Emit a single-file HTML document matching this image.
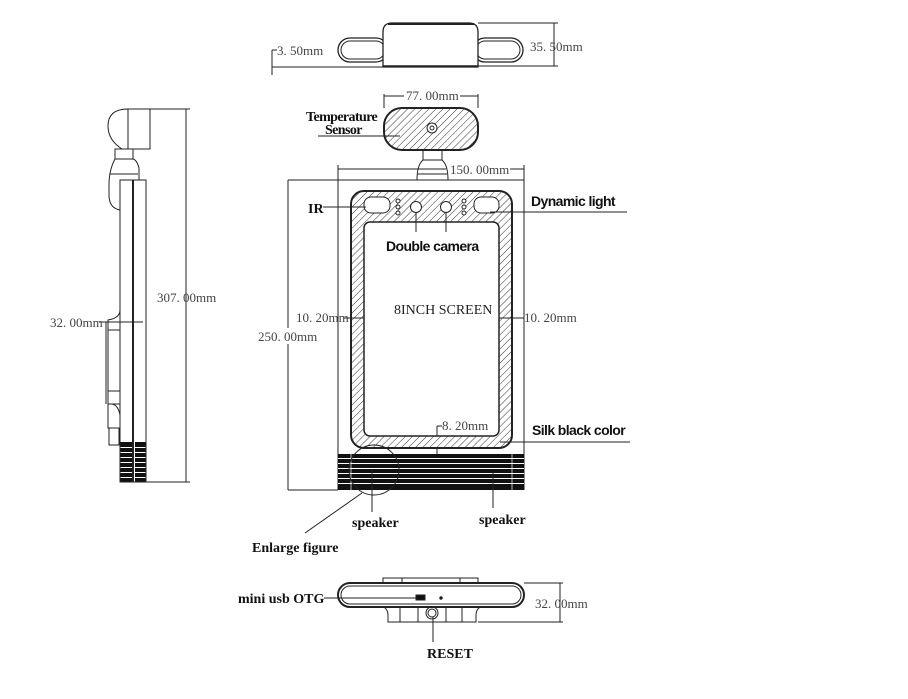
<!DOCTYPE html>
<html><head><meta charset="utf-8"><style>
html,body{margin:0;padding:0;background:#fff;}
svg{display:block}
.d{font-family:"Liberation Serif",serif;font-size:13px;fill:#444}
.b{font-family:"Liberation Sans",sans-serif;font-weight:bold;font-size:14px;fill:#111;letter-spacing:-0.6px}
.m{font-family:"Liberation Serif",serif;font-weight:bold;font-size:14px;fill:#111}
</style></head><body>
<svg width="908" height="699" viewBox="0 0 908 699" xmlns="http://www.w3.org/2000/svg">
<defs>
<pattern id="h" width="5" height="5" patternUnits="userSpaceOnUse" patternTransform="rotate(45)">
<rect width="5" height="5" fill="#fff"/><line x1="0" y1="0" x2="0" y2="5" stroke="#333" stroke-width="1"/>
</pattern>
</defs>
<g fill="none" stroke="#222" stroke-width="1">
<!-- TOP VIEW -->
<rect x="338" y="38" width="50" height="24" rx="12" stroke-width="1.3"/>
<rect x="341" y="41" width="44" height="18" rx="9"/>
<rect x="473" y="38" width="50" height="24" rx="12" stroke-width="1.3"/>
<rect x="476" y="41" width="44" height="18" rx="9"/>
<path d="M383,67 V32 Q383,23 392,23 H469 Q478,23 478,32 V67 Z" fill="#fff" stroke-width="1.3"/>
<line x1="388" y1="24" x2="474" y2="24" stroke-width="2"/>
<line x1="383" y1="66" x2="478" y2="66" stroke-width="1.5"/>
<line x1="478" y1="23" x2="558" y2="23"/><line x1="478" y1="66" x2="558" y2="66"/>
<line x1="554" y1="23" x2="554" y2="66"/>
<line x1="272" y1="67" x2="383" y2="67"/>
<line x1="272" y1="50" x2="272" y2="75"/><line x1="272" y1="50" x2="277" y2="50"/>
<!-- TEMP SENSOR -->
<rect x="384" y="108" width="94" height="42" rx="18" fill="url(#h)" stroke-width="2"/>
<circle cx="432" cy="128" r="5" fill="#fff"/><circle cx="432" cy="128" r="2"/>
<line x1="384" y1="94" x2="384" y2="108"/><line x1="478" y1="94" x2="478" y2="108"/>
<line x1="384" y1="96" x2="404" y2="96"/><line x1="460" y1="96" x2="478" y2="96"/>
<line x1="318" y1="136" x2="400" y2="136"/>
<!-- NECK -->
<path d="M423,150 H442 V160 H423 Z"/>
<path d="M423,160 Q417,165 417,180 H448 Q448,165 442,160" />
<line x1="418" y1="174" x2="447" y2="174"/>
<!-- FRONT BODY -->
<line x1="338" y1="180" x2="338" y2="490"/><line x1="524" y1="180" x2="524" y2="490"/>
<line x1="338" y1="180" x2="524" y2="180"/>
<line x1="338" y1="165" x2="338" y2="180"/><line x1="524" y1="165" x2="524" y2="180"/>
<line x1="338" y1="169" x2="446" y2="169"/><line x1="510" y1="169" x2="524" y2="169"/>
<rect x="351" y="191" width="161" height="257" rx="13" fill="url(#h)" stroke-width="2"/>
<rect x="364" y="222" width="135" height="214" rx="6" fill="#fff" stroke-width="1.5"/>
<rect x="364" y="197" width="26" height="16" rx="7" fill="#fff"/>
<rect x="474" y="197" width="25" height="16" rx="7" fill="#fff"/>
<circle cx="416" cy="207" r="5.5" fill="#fff"/><circle cx="446" cy="207" r="5.5" fill="#fff"/>
<circle cx="398" cy="201" r="2" fill="#fff"/><circle cx="398" cy="207" r="2" fill="#fff"/><circle cx="398" cy="213" r="2" fill="#fff"/>
<circle cx="464" cy="201" r="2" fill="#fff"/><circle cx="464" cy="207" r="2" fill="#fff"/><circle cx="464" cy="213" r="2" fill="#fff"/>
<line x1="416" y1="212" x2="416" y2="232"/><line x1="446" y1="212" x2="446" y2="232"/>
<line x1="323" y1="207" x2="366" y2="207"/>
<line x1="490" y1="212" x2="627" y2="212"/>
<line x1="500" y1="442" x2="630" y2="442"/>
<line x1="344" y1="318" x2="364" y2="318"/><line x1="499" y1="318" x2="524" y2="318"/>
<line x1="437" y1="426" x2="437" y2="436"/><line x1="437" y1="426" x2="442" y2="426"/>
<line x1="437" y1="448" x2="437" y2="454"/>
<!-- 250 dim -->
<line x1="288" y1="180" x2="338" y2="180"/><line x1="288" y1="490" x2="338" y2="490"/>
<line x1="288" y1="180" x2="288" y2="328"/><line x1="288" y1="344" x2="288" y2="490"/>
</g>
<!-- GRILL -->
<rect x="338" y="454" width="186" height="36" fill="#111"/>
<g stroke="#fff" stroke-width="1">
<line x1="338" y1="458.5" x2="524" y2="458.5"/><line x1="338" y1="463.5" x2="524" y2="463.5"/>
<line x1="338" y1="468.5" x2="524" y2="468.5"/><line x1="338" y1="473.5" x2="524" y2="473.5"/>
<line x1="338" y1="478.5" x2="524" y2="478.5"/><line x1="338" y1="483.5" x2="524" y2="483.5"/>
<line x1="351" y1="454" x2="351" y2="490" stroke-width="0.7"/><line x1="512" y1="454" x2="512" y2="490" stroke-width="0.7"/>
</g>
<!-- side grill -->
<rect x="120" y="442" width="26" height="40" fill="#111"/>
<g stroke="#fff" stroke-width="1">
<line x1="120" y1="447.5" x2="146" y2="447.5"/><line x1="120" y1="452.5" x2="146" y2="452.5"/>
<line x1="120" y1="457.5" x2="146" y2="457.5"/><line x1="120" y1="462.5" x2="146" y2="462.5"/>
<line x1="120" y1="467.5" x2="146" y2="467.5"/><line x1="120" y1="472.5" x2="146" y2="472.5"/>
<line x1="120" y1="477.5" x2="146" y2="477.5"/>
<line x1="134.5" y1="442" x2="134.5" y2="482"/>
</g>
<g fill="none" stroke="#222" stroke-width="1">
<circle cx="374" cy="470" r="25"/>
<line x1="372" y1="470" x2="372" y2="512"/><line x1="493" y1="472" x2="493" y2="508"/>
<line x1="362" y1="493" x2="305" y2="533"/>
<!-- SIDE VIEW -->
<path d="M128,109 V149 H122 Q108,140 108,126 Q108,109 128,109 Z"/>
<rect x="128" y="109" width="22" height="40"/>
<rect x="115" y="149" width="18" height="10"/>
<path d="M115,159 Q109,170 109,185 V195 Q109,208 120,210 V180 H139 V168 Q137,160 133,159"/>
<line x1="110" y1="174" x2="138" y2="174"/>
<rect x="120" y="180" width="26" height="302"/>
<line x1="133" y1="180" x2="133" y2="482" stroke-width="2"/>
<path d="M120,310 Q120,318 108,320 V404 H120"/>
<line x1="106" y1="322" x2="106" y2="404"/>
<line x1="108" y1="330" x2="120" y2="330"/><line x1="108" y1="391" x2="120" y2="391"/>
<path d="M108,404 V428 H120 V415 Q118,405 112,404"/>
<rect x="109" y="428" width="10" height="17"/>
<line x1="146" y1="109" x2="190" y2="109"/><line x1="146" y1="482" x2="190" y2="482"/>
<line x1="186" y1="109" x2="186" y2="482"/>
<line x1="99" y1="322" x2="143" y2="322"/>
<!-- BOTTOM VIEW -->
<rect x="383" y="578" width="95" height="6"/>
<line x1="402" y1="578" x2="402" y2="584"/><line x1="460" y1="578" x2="460" y2="584"/>
<path d="M384,607 Q388,610 388,615 V622 H476 V615 Q476,610 480,607"/>
<line x1="400" y1="607" x2="400" y2="622"/><line x1="418" y1="607" x2="418" y2="622"/>
<line x1="446" y1="607" x2="446" y2="622"/><line x1="462" y1="607" x2="462" y2="622"/>
<circle cx="432" cy="613" r="6"/><circle cx="432" cy="613" r="4"/>
<rect x="338" y="583" width="186" height="24" rx="12" fill="#fff" stroke-width="2"/>
<rect x="341" y="586" width="180" height="18" rx="9"/>
<rect x="416" y="595" width="9" height="5" fill="#111"/>
<circle cx="441" cy="598" r="1.2" fill="#111"/>
<line x1="324" y1="598" x2="416" y2="598"/>
<line x1="433" y1="617" x2="433" y2="642"/>
<line x1="524" y1="583" x2="563" y2="583"/><line x1="478" y1="622" x2="563" y2="622"/>
<line x1="560" y1="583" x2="560" y2="622"/>
</g>
<!-- TEXT -->
<text class="d" x="277" y="55">3. 50mm</text>
<text class="d" x="530" y="51">35. 50mm</text>
<text class="d" x="406" y="100">77. 00mm</text>
<text class="b" x="306" y="121" style="font-family:'Liberation Serif',serif">Temperature</text>
<text class="b" x="325" y="134" style="font-family:'Liberation Serif',serif">Sensor</text>
<text class="d" x="450" y="174">150. 00mm</text>
<text class="m" x="308" y="213">IR</text>
<text class="b" x="531" y="206">Dynamic light</text>
<text class="b" x="386" y="251">Double camera</text>
<text class="m" x="394" y="314" style="font-weight:normal;fill:#222">8INCH SCREEN</text>
<text class="d" x="296" y="322">10. 20mm</text>
<text class="d" x="524" y="322">10. 20mm</text>
<text class="d" x="258" y="341">250. 00mm</text>
<text class="d" x="442" y="430">8. 20mm</text>
<text class="b" x="532" y="435">Silk black color</text>
<text class="m" x="352" y="527">speaker</text>
<text class="m" x="479" y="524">speaker</text>
<text class="m" x="252" y="552">Enlarge figure</text>
<text class="d" x="157" y="302">307. 00mm</text>
<text class="d" x="50" y="327">32. 00mm</text>
<text class="m" x="238" y="603">mini usb OTG</text>
<text class="d" x="535" y="608">32. 00mm</text>
<text class="m" x="427" y="658">RESET</text>
</svg>
</body></html>
